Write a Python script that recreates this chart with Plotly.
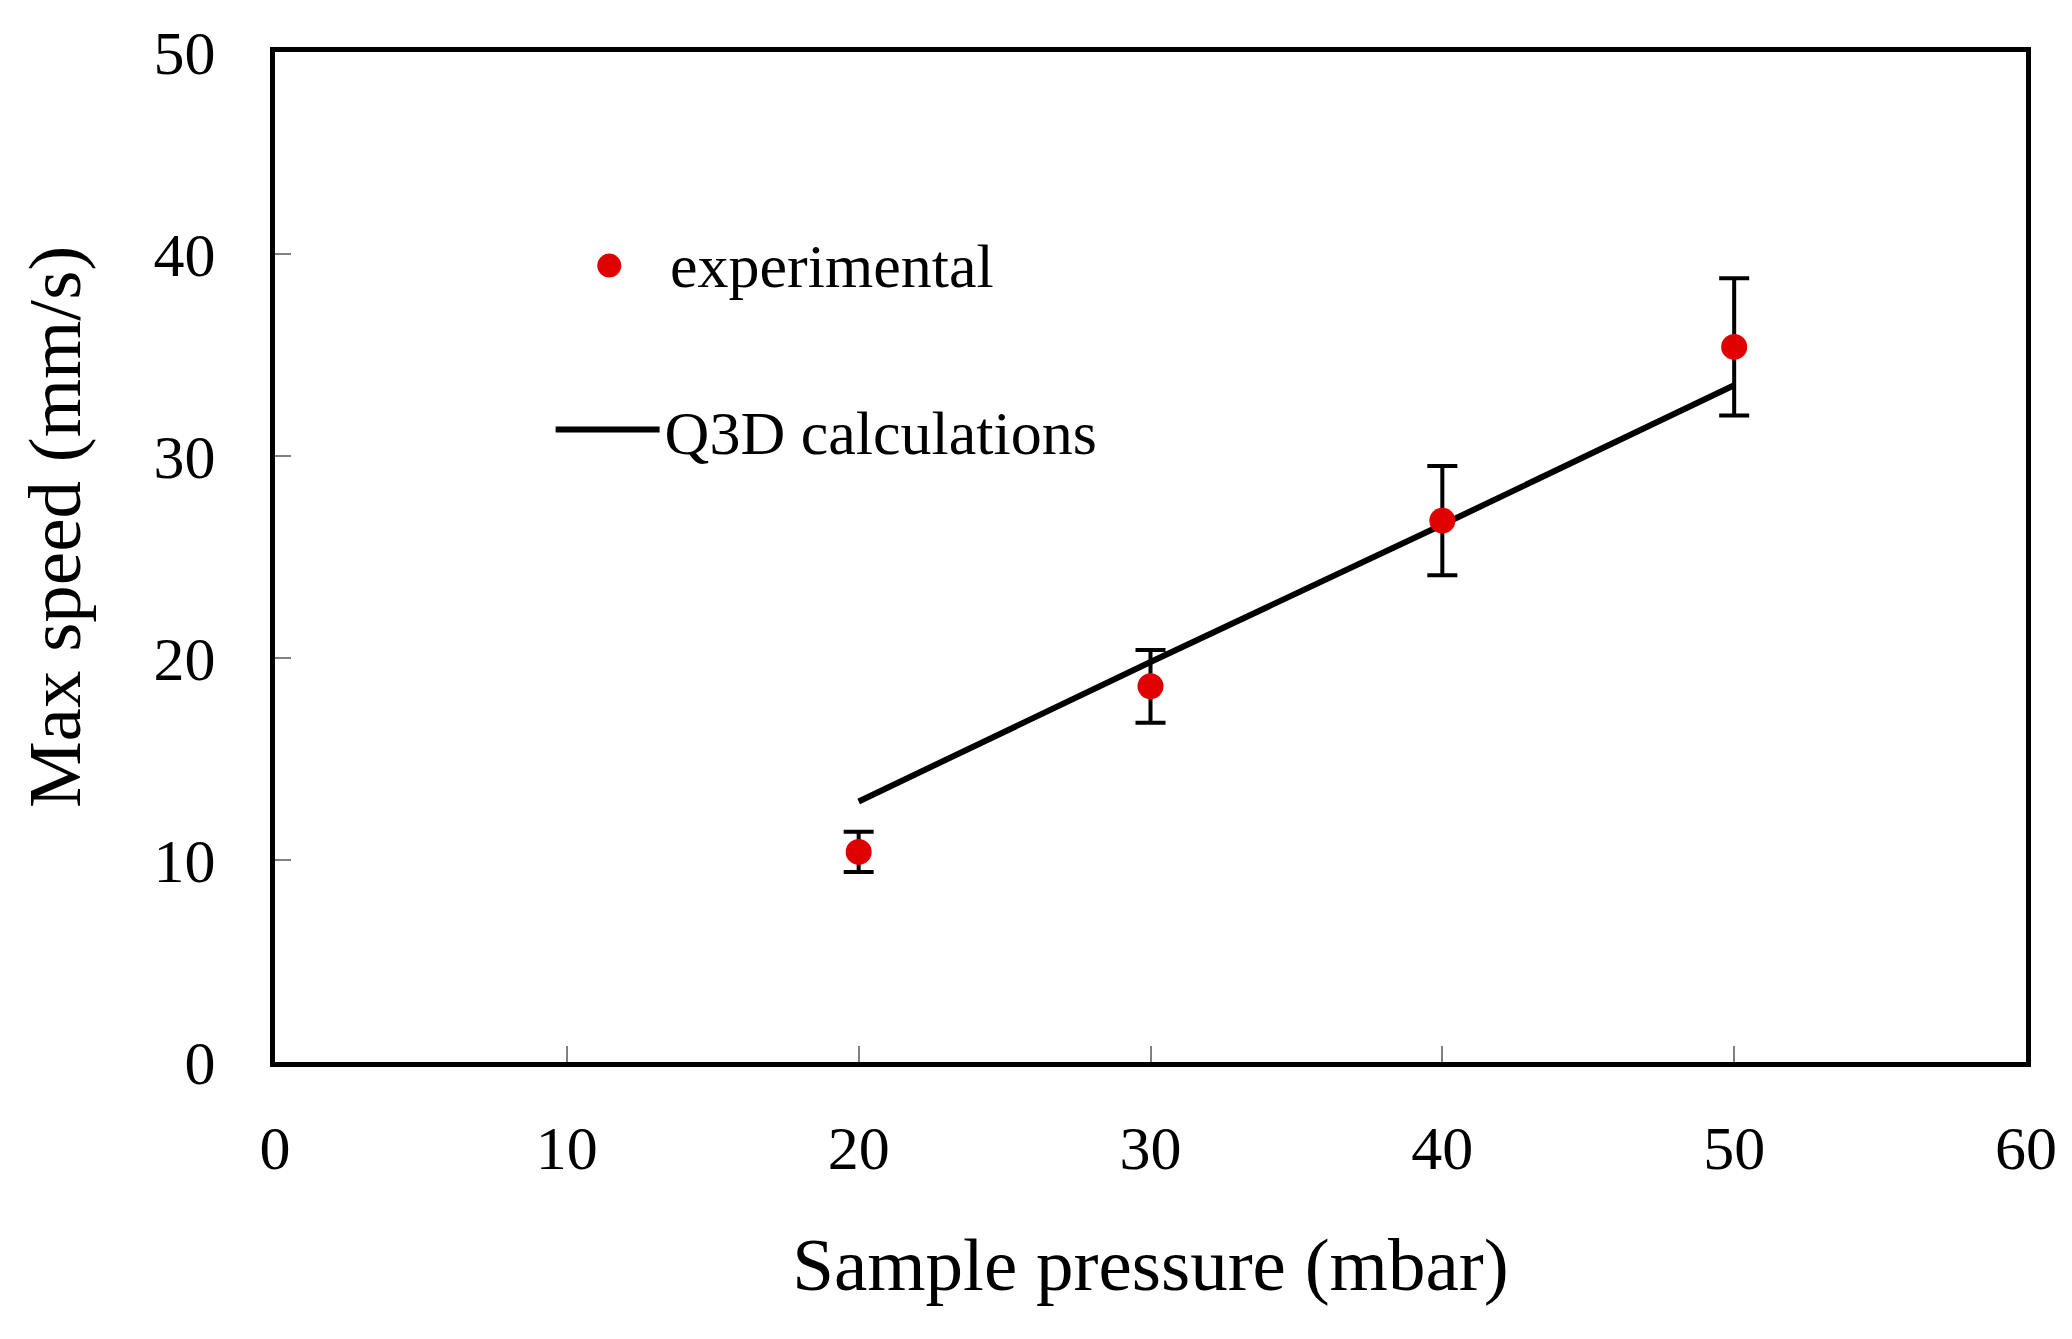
import plotly.graph_objects as go

# Experimental maximum speed vs sample pressure
pressure = [20, 30, 40, 50]
speed_exp = [10.4, 18.6, 26.8, 35.4]
speed_err = [1.0, 1.8, 2.7, 3.4]

# Q3D calculation line
pressure_calc = [20, 30, 40, 50]
speed_calc = [12.9, 19.8, 26.6, 33.5]

x_ticks = [0, 10, 20, 30, 40, 50, 60]
y_ticks = [0, 10, 20, 30, 40, 50]

font_family = "Liberation Serif, Times New Roman, serif"
red = '#e00000'

fig = go.Figure()

fig.add_trace(go.Scatter(x=pressure_calc, y=speed_calc, mode='lines',
                         name='Q3D calculations', legend='legend2',
                         line=dict(color='black', width=6)))

fig.add_trace(go.Scatter(x=pressure, y=speed_exp, mode='markers',
                         name='experimental', showlegend=False,
                         marker=dict(color=red, size=26),
                         error_y=dict(type='data', array=speed_err, visible=True,
                                      color='black', thickness=4, width=15)))

axis_common = dict(showline=True, linecolor='black', linewidth=5, mirror=True,
                   showgrid=False, zeroline=False,
                   ticks='inside', ticklen=16, tickwidth=2, tickcolor='#808080',
                   tickfont=dict(family=font_family, size=62, color='black'))

fig.update_xaxes(range=[0, 60], tickvals=x_ticks, ticklabelstandoff=28,
                 title=dict(text='Sample pressure (mbar)', standoff=58,
                            font=dict(family=font_family, size=75, color='black')),
                 **axis_common)
fig.update_yaxes(range=[0, 50], tickvals=y_ticks, ticklabelstandoff=42,
                 **axis_common)

# y axis title placed as an annotation to match the original offset
fig.add_annotation(text='Max speed (mm/s)', textangle=-90,
                   xref='paper', yref='paper', x=-0.126, y=0.53,
                   xanchor='center', yanchor='middle', showarrow=False,
                   font=dict(family=font_family, size=75, color='black'))

# legend entry for the experimental points (large dot like the original)
fig.add_shape(type='circle', xref='paper', yref='paper',
              xsizemode='pixel', ysizemode='pixel',
              xanchor=0.1909, yanchor=0.7885, x0=-12, x1=12, y0=-12, y1=12,
              fillcolor=red, line=dict(width=0))
fig.add_annotation(text='experimental', xref='paper', yref='paper',
                   x=0.2246, y=0.7885, xanchor='left', yanchor='middle',
                   showarrow=False,
                   font=dict(family=font_family, size=62, color='black'))

fig.update_layout(
    width=2072, height=1339,
    margin=dict(l=267, r=54, t=44, b=285),
    paper_bgcolor='white', plot_bgcolor='white',
    showlegend=True,
    legend2=dict(x=0.1574, y=0.626, xanchor='left', yanchor='middle',
                 bgcolor='rgba(0,0,0,0)', itemwidth=104,
                 font=dict(family=font_family, size=62, color='black')),
)

fig.write_html("out.html")
